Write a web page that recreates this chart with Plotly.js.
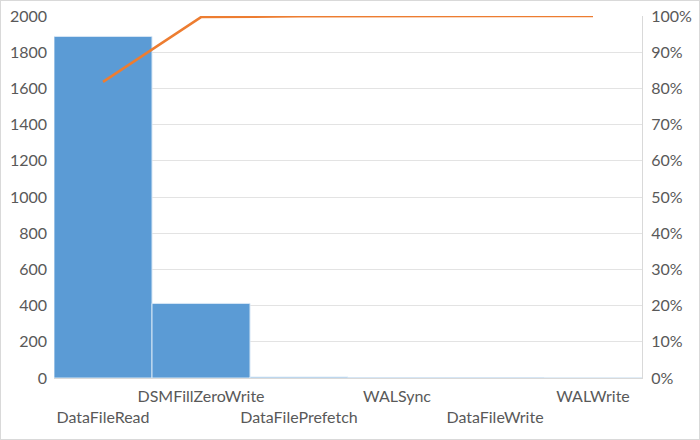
<!DOCTYPE html>
<html>
<head>
<meta charset="utf-8">
<script src="https://cdn.plot.ly/plotly-3.0.1.min.js"></script>
<style>
html,body{margin:0;padding:0;background:#fff;}
#wrap{width:698px;height:438px;border:1px solid #d9d9d9;}
#chart{width:698px;height:438px;}
</style>
</head>
<body>
<div id="wrap"><div id="chart"></div></div>
<script>
const categories = ["DataFileRead","DSMFillZeroWrite","DataFilePrefetch","WALSync","DataFileWrite","WALWrite"];
const counts = [1887, 412, 5, 1, 1, 0];
const cumulativePct = [0.818, 0.997, 0.999, 0.9995, 1.0, 1.0];
const leftTicks = [0,200,400,600,800,1000,1200,1400,1600,1800,2000];

const tickText = categories.map((c,i) => i % 2 === 0 ? ' <br>' + c : c);

const font = {family: 'Lato, "Open Sans", sans-serif', size: 16, color: '#595959'};

const traces = [
  {
    type: 'bar', x: categories, y: counts, width: 1,
    marker: {color: '#5b9bd5', line: {color: '#d6e6f5', width: 1}},
    hoverinfo: 'x+y'
  },
  {
    type: 'scatter', mode: 'lines', x: categories, y: cumulativePct, yaxis: 'y2',
    line: {color: '#ed7d31', width: 2.5}
  }
];

const layout = {
  width: 698, height: 438,
  margin: {l: 53, r: 57, t: 15, b: 61},
  paper_bgcolor: '#fff', plot_bgcolor: '#fff',
  showlegend: false,
  bargap: 0,
  font: font,
  xaxis: {
    type: 'category',
    tickvals: categories, ticktext: tickText, tickangle: 0,
    showgrid: false, showline: true, linecolor: '#d9d9d9', linewidth: 1,
    ticks: '', tickfont: font, fixedrange: true, ticklabelstandoff: 4
  },
  yaxis: {
    range: [0, 2000], tickvals: leftTicks, showgrid: true, gridcolor: '#e3e3e3', gridwidth: 1,
    zeroline: false, showline: false, ticks: '', tickfont: font, ticklabelstandoff: 6
  },
  yaxis2: {
    overlaying: 'y', side: 'right', range: [0, 1], dtick: 0.1, tickformat: '.0%',
    showgrid: false, zeroline: false, showline: true, linecolor: '#d9d9d9', linewidth: 1,
    ticks: '', tickfont: font, ticklabelstandoff: 5
  }
};

Plotly.newPlot('chart', traces, layout, {displayModeBar: false, staticPlot: true});
</script>
</body>
</html>
